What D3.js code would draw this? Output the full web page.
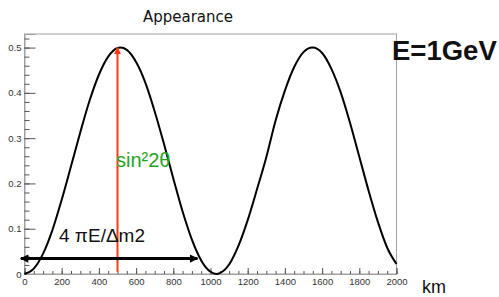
<!DOCTYPE html>
<html>
<head>
<meta charset="utf-8">
<script src="https://cdn.jsdelivr.net/npm/d3@7"></script>
<style>
  body { margin: 0; background: #fff; }
  text { font-family: "Liberation Sans", Arial, sans-serif; }
</style>
</head>
<body>
<div class="canva"></div>
<script>
// curve (km, probability)
const distanceKm = [0, 50, 100, 150, 200, 250, 300, 350, 400, 450, 500, 516, 550, 600, 650, 700, 750, 800, 850, 900, 950, 1000, 1032,
  1050, 1100, 1150, 1200, 1250, 1300, 1350, 1400, 1450, 1500, 1548, 1600, 1650, 1700, 1750, 1800, 1850, 1900, 1950, 2000];
const probability = [0, 0.012, 0.045, 0.097, 0.164, 0.238, 0.313, 0.383, 0.440, 0.480, 0.499, 0.5, 0.495, 0.468, 0.422, 0.359, 0.287, 0.211, 0.138, 0.076, 0.030, 0.005, 0,
  0.002, 0.021, 0.062, 0.119, 0.187, 0.258, 0.339, 0.405, 0.457, 0.490, 0.5, 0.488, 0.453, 0.401, 0.334, 0.259, 0.184, 0.115, 0.058, 0.022];

const xMajor = [0, 200, 400, 600, 800, 1000, 1200, 1400, 1600, 1800, 2000];
const yMajor = [0, 0.1, 0.2, 0.3, 0.4, 0.5];

// annotations
const amplitudeKm = 500;       // red arrow position
const amplitudeRange = [0.005, 0.5];
const periodKm = [-20, 930];    // black double arrow
const periodLevel = 0.034;

const svg = d3.select(".canva").append("svg")
  .attr("width", 499)
  .attr("height", 297);

const frame = {left: 24.5, right: 396.5, top: 34, bottom: 274};

const x = d3.scaleLinear().domain([0, 2000]).range([frame.left, frame.right]);
const y = d3.scaleLinear().domain([0, 0.53]).range([frame.bottom, frame.top]);

// markers
const defs = svg.append("defs");
defs.append("marker").attr("id", "redhead")
  .attr("viewBox", "0 0 10 10").attr("refX", 9).attr("refY", 5)
  .attr("markerWidth", 3.5).attr("markerHeight", 3.5).attr("markerUnits", "strokeWidth")
  .attr("orient", "auto")
  .append("path").attr("d", "M0,0L10,5L0,10z").attr("fill", "#ff3a12");
defs.append("marker").attr("id", "blackhead")
  .attr("viewBox", "0 0 10 10").attr("refX", 9).attr("refY", 5)
  .attr("markerWidth", 3.2).attr("markerHeight", 2.8).attr("markerUnits", "strokeWidth")
  .attr("orient", "auto-start-reverse")
  .append("path").attr("d", "M0,0L10,5L0,10z").attr("fill", "#000");

// frame
svg.append("rect")
  .attr("x", frame.left).attr("y", frame.top)
  .attr("width", frame.right - frame.left).attr("height", frame.bottom - frame.top)
  .attr("fill", "#fff").attr("stroke", "#a0a0a0").attr("stroke-width", 1);

// y axis
svg.append("g")
  .attr("transform", `translate(${frame.left},0)`)
  .call(d3.axisLeft(y).tickValues(yMajor).tickSize(-11).tickPadding(3)
    .tickFormat(d => d === 0 ? "0" : d3.format(".1f")(d)));
svg.append("g")
  .attr("transform", `translate(${frame.left},0)`)
  .call(d3.axisLeft(y).tickValues(d3.range(0, 0.53, 0.02)).tickSize(-5).tickFormat(""))
  .call(g => g.select(".domain").remove());

// x axis
svg.append("g")
  .attr("transform", `translate(0,${frame.bottom})`)
  .call(d3.axisBottom(x).tickValues(xMajor).tickSize(-6).tickPadding(4).tickFormat(d3.format("d")));
svg.append("g")
  .attr("transform", `translate(0,${frame.bottom})`)
  .call(d3.axisBottom(x).tickValues(d3.range(0, 2001, 50)).tickSize(-3).tickFormat(""))
  .call(g => g.select(".domain").remove());

svg.selectAll(".tick line").attr("stroke", "#555");
svg.selectAll(".domain").attr("stroke", "#a0a0a0");
svg.selectAll(".tick text")
  .attr("fill", "#333")
  .style("font-size", "9.5px")
  .style("font-family", "'Liberation Sans', Arial, sans-serif");

// curve
const line = d3.line()
  .x((d, i) => x(distanceKm[i]))
  .y(d => y(d))
  .curve(d3.curveMonotoneX);
svg.append("path")
  .datum(probability)
  .attr("d", line)
  .attr("fill", "none")
  .attr("stroke", "#000")
  .attr("stroke-width", 2);

// amplitude arrow
svg.append("line")
  .attr("x1", x(amplitudeKm)).attr("x2", x(amplitudeKm))
  .attr("y1", y(amplitudeRange[0])).attr("y2", y(amplitudeRange[1]))
  .attr("stroke", "#ff3a12").attr("stroke-width", 2)
  .attr("marker-end", "url(#redhead)");

// period arrow
svg.append("line")
  .attr("x1", x(periodKm[0])).attr("x2", x(periodKm[1]))
  .attr("y1", y(periodLevel)).attr("y2", y(periodLevel))
  .attr("stroke", "#000").attr("stroke-width", 3)
  .attr("marker-start", "url(#blackhead)")
  .attr("marker-end", "url(#blackhead)");

// texts
svg.append("text")
  .attr("x", 188).attr("y", 22)
  .attr("text-anchor", "middle")
  .style("font-family", "'DejaVu Sans', sans-serif")
  .style("font-size", "15px")
  .attr("fill", "#111")
  .text("Appearance");

svg.append("text")
  .attr("x", 392).attr("y", 60)
  .style("font-size", "27.5px")
  .style("font-weight", "bold")
  .attr("fill", "#111")
  .text("E=1GeV");

svg.append("text")
  .attr("x", 116).attr("y", 167)
  .style("font-size", "20px")
  .attr("fill", "#1ea51e")
  .text("sin²2θ");

svg.append("text")
  .attr("x", 59).attr("y", 242)
  .style("font-size", "19px")
  .attr("fill", "#111")
  .text("4 πE/Δm2");

svg.append("text")
  .attr("x", 422).attr("y", 293)
  .style("font-size", "18px")
  .attr("fill", "#111")
  .text("km");
</script>
</body>
</html>
